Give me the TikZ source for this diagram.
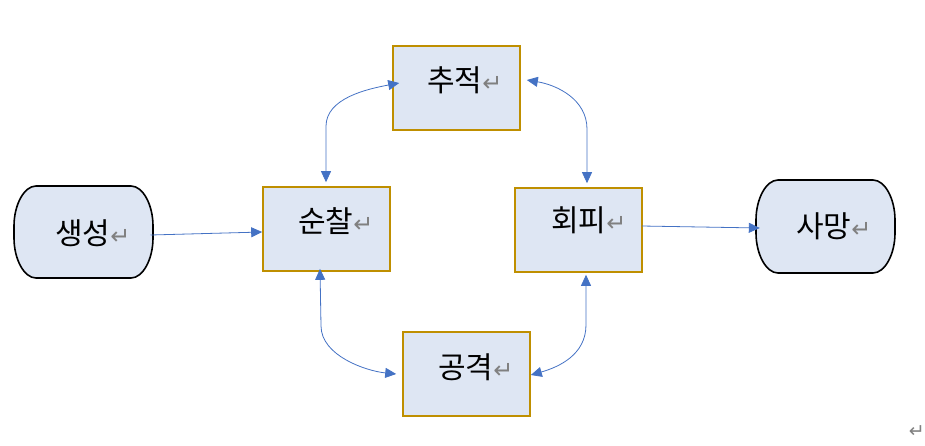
\documentclass[tikz,border=0pt]{standalone}
\usepackage{fontspec}
\newfontfamily\krfont{Noto Sans CJK KR}
\newfontfamily\djvfont{DejaVu Sans}
\usetikzlibrary{arrows.meta,calc}
\definecolor{boxfill}{RGB}{222,230,243}
\definecolor{boxline}{RGB}{191,143,0}
\definecolor{arrblue}{RGB}{68,114,196}
\definecolor{retgray}{RGB}{128,128,128}
\newcommand{\ret}{{\color{retgray}\djvfont\fontsize{24}{26}\selectfont ↵}}
\tikzset{
  statebox/.style={draw=boxline, fill=boxfill, line width=1.6pt, minimum width=127pt, minimum height=84pt, inner sep=0pt},
  termbox/.style={minimum width=139pt, minimum height=92pt, inner sep=0pt},
  termline/.style={draw=black, fill=boxfill, line width=1.6pt},
  lbl/.style={anchor=west, inner sep=0pt, font=\krfont\fontsize{30}{34}\selectfont},
  conn/.style={draw=arrblue, line width=0.8pt, -{Triangle[length=11pt,width=10pt]}},
  biconn/.style={draw=arrblue, line width=0.8pt, {Triangle[length=11pt,width=10pt]}-{Triangle[length=11pt,width=10pt]}}
}
\begin{document}
\begin{tikzpicture}[x=1pt,y=-1pt]
\useasboundingbox (0,0) rectangle (925,445);
% terminal shapes
\path[termline] (36,186) -- (131,186) .. controls (143,186) and (153,205) .. (153,226) -- (153,238) .. controls (153,259) and (143,278) .. (131,278) -- (36,278) .. controls (24,278) and (14,259) .. (14,238) -- (14,226) .. controls (14,205) and (24,186) .. (36,186) -- cycle;
\path[termline] (778,180) -- (873,180) .. controls (885,180) and (895,199) .. (895,220) -- (895,233) .. controls (895,254) and (885,273) .. (873,273) -- (778,273) .. controls (766,273) and (756,254) .. (756,233) -- (756,220) .. controls (756,199) and (766,180) .. (778,180) -- cycle;
\node[termbox] (gen) at (83.5,232) {};
\node[termbox, minimum height=93pt] (death) at (825.5,226.5) {};
% state boxes
\node[statebox] (chase) at (456.5,88) {};
\node[statebox] (patrol) at (326.5,229) {};
\node[statebox] (evade) at (578.5,230) {};
\node[statebox] (attack) at (466.5,374) {};
% labels
\node[lbl] (tgen) at (55,233) {생성\ret};
\node[lbl] (tdeath) at (796,226) {사망\ret};
\node[lbl] (tchase) at (427,80) {추적\ret};
\node[lbl] (tpatrol) at (298,221) {순찰\ret};
\node[lbl] (tevade) at (551,220) {회피\ret};
\node[lbl] (tattack) at (438,367) {공격\ret};
\node[anchor=east, inner sep=0pt, text=retgray, font=\djvfont\fontsize{19}{21}\selectfont] (endmark) at (925,432) {↵};
% connectors
\coordinate (c1a) at ($(gen.center)+(67,3)$);
\coordinate (c1b) at ($(patrol.west)+(0,3)$);
\draw[conn] (c1a) -- (c1b);
\coordinate (c2a) at ($(evade.east)+(-1,-4)$);
\coordinate (c2b) at ($(death.west)+(4,1.5)$);
\draw[conn] (c2a) -- (c2b);
\coordinate (c3a) at ($(patrol.north)+(-0.5,-4)$);
\coordinate (c3b) at ($(chase.west)+(7,-5)$);
\draw[biconn] (c3a) -- ++(0,-56) .. controls +(0,-28) and +(-32,6) .. (c3b);
\coordinate (c4a) at ($(evade.north)+(8.5,-4)$);
\coordinate (c4b) at ($(chase.east)+(6,-8)$);
\draw[biconn] (c4a) -- ++(0,-54) .. controls +(0,-30) and +(30,5) .. (c4b);
\coordinate (c5a) at ($(patrol.south)+(-6.5,-3)$);
\coordinate (c5b) at ($(attack.west)+(-6,0)$);
\draw[biconn] (c5a) -- ++(1,57) .. controls +(0,30) and +(-30,-3) .. (c5b);
\coordinate (c6a) at ($(evade.south)+(7.5,2)$);
\coordinate (c6b) at ($(attack.east)+(0,1)$);
\draw[biconn] (c6a) -- ++(0,50) .. controls +(0,30) and +(28,-8) .. (c6b);
\end{tikzpicture}
\end{document}
